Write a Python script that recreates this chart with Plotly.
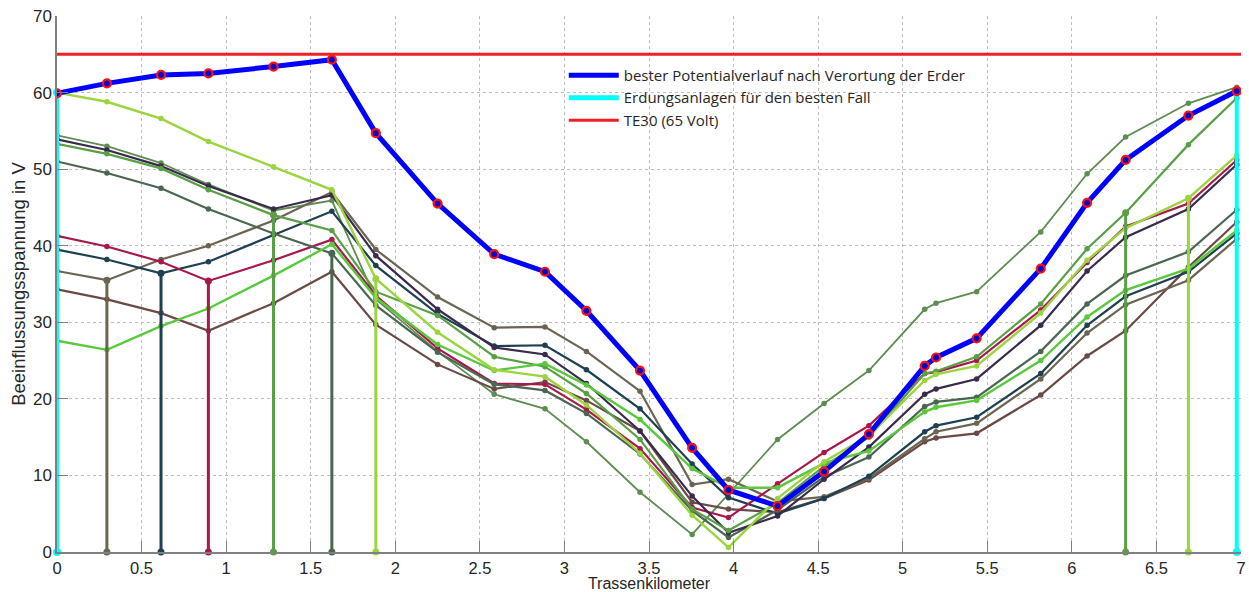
import plotly.graph_objects as go

# Measurement positions along the route (km)
km = [0, 0.295, 0.615, 0.895, 1.28, 1.625, 1.885, 2.25, 2.585, 2.885, 3.13, 3.447,
      3.755, 3.97, 4.26, 4.535, 4.80, 5.13, 5.197, 5.437, 5.816, 6.09, 6.318, 6.689, 6.975]

best = [59.9, 61.2, 62.3, 62.5, 63.4, 64.3, 54.7, 45.5, 38.9, 36.6, 31.5, 23.7,
        13.6, 8.1, 6.0, 10.5, 15.4, 24.3, 25.4, 27.9, 37.0, 45.6, 51.2, 57.0, 60.2]

s_lightgreen = [60.0, 58.8, 56.6, 53.6, 50.3, 47.3, 35.7, 28.7, 23.8, 22.9, 19.2, 12.9,
                4.8, 0.6, 7.0, 11.8, 15.2, 22.4, 23.2, 24.3, 31.2, 38.1, 42.3, 46.2, 51.8]
s_greentop = [54.4, 53.0, 50.8, 48.0, 44.6, 45.9, 33.0, 26.2, 20.6, 18.7, 14.4, 7.8,
              2.3, 7.6, 14.7, 19.4, 23.7, 31.7, 32.5, 34.0, 41.8, 49.4, 54.2, 58.6, 60.7]
s_greenmid = [53.3, 52.0, 50.1, 47.3, 44.0, 42.0, 34.0, 30.9, 25.5, 24.2, 20.7, 14.7,
              5.6, 2.8, 6.4, 11.2, 15.0, 23.3, 23.6, 25.5, 32.4, 39.6, 44.3, 53.2, 59.3]
s_purple = [53.9, 52.5, 50.4, 47.8, 44.8, 46.6, 38.7, 31.7, 26.7, 25.8, 22.0, 15.8,
            7.3, 2.5, 4.7, 9.5, 13.7, 20.6, 21.3, 22.6, 29.6, 36.7, 41.1, 44.8, 50.6]
s_darkgreen = [51.0, 49.5, 47.5, 44.8, 41.6, 39.0, 32.2, 26.1, 21.9, 21.1, 18.1, 12.8,
               5.4, 1.9, 5.5, 9.8, 12.4, 19.0, 19.6, 20.2, 26.2, 32.4, 36.1, 39.2, 44.7]
s_crimson = [41.3, 39.9, 37.9, 35.4, 38.1, 40.8, 33.5, 26.6, 22.0, 21.9, 18.6, 13.5,
             5.8, 4.5, 8.9, 13.0, 16.5, 23.3, 23.5, 25.0, 31.6, 37.8, 42.5, 45.5, 51.2]
s_teal = [39.5, 38.2, 36.4, 37.9, 41.4, 44.5, 37.4, 31.1, 26.9, 27.0, 23.8, 18.7,
          11.5, 7.1, 5.0, 7.0, 9.9, 15.7, 16.5, 17.6, 23.3, 29.6, 33.4, 36.6, 41.6]
s_browngray = [36.7, 35.5, 38.2, 40.0, 43.3, 47.0, 39.5, 33.3, 29.3, 29.4, 26.2, 21.0,
               8.8, 9.5, 6.6, 7.2, 9.6, 14.8, 15.7, 16.8, 22.6, 28.6, 32.3, 35.5, 40.9]
s_brown = [34.3, 33.0, 31.2, 28.9, 32.5, 36.6, 29.7, 24.5, 21.3, 22.2, 19.8, 15.8,
           6.5, 5.6, 5.2, 7.0, 9.4, 14.4, 14.9, 15.5, 20.5, 25.6, 28.9, 37.2, 43.1]
s_brightgreen = [27.6, 26.4, 29.5, 31.8, 36.1, 40.2, 33.2, 27.1, 23.7, 24.6, 21.8, 17.3,
                 10.9, 8.4, 8.4, 11.6, 13.2, 18.3, 18.9, 19.8, 25.0, 30.7, 34.2, 37.0, 42.0]

# Earthing locations of individual scenarios (vertical markers)
earth_km = [0.295, 0.615, 0.895, 1.28, 1.625, 1.885, 6.318, 6.689]
earth_top = [35.5, 36.4, 35.4, 44.0, 39.0, 35.7, 44.3, 46.2]
earth_col = ["#6B6452", "#1E4050", "#A8184C", "#5A9E46", "#4A6650", "#9BD43F", "#5A9E46", "#9BD43F"]

# Earthing for best case
best_earth_km = [0, 6.975]
best_earth_top = [60.0, 60.2]

limit_value = 65
x_ticks = [0, 0.5, 1, 1.5, 2, 2.5, 3, 3.5, 4, 4.5, 5, 5.5, 6, 6.5, 7]
y_ticks = [0, 10, 20, 30, 40, 50, 60, 70]

scenarios = [
    (s_greentop, "#5E8C52", 1.8),
    (s_brown, "#6A4A46", 2.2),
    (s_browngray, "#6B6452", 2.2),
    (s_teal, "#1E4050", 2.2),
    (s_crimson, "#A8184C", 2.2),
    (s_darkgreen, "#4A6650", 2.2),
    (s_purple, "#3A2A4C", 2.2),
    (s_greenmid, "#5A9E46", 2.2),
    (s_brightgreen, "#5AC83C", 2.4),
    (s_lightgreen, "#9BD43F", 2.4),
]

fig = go.Figure()

for ys, col, w in scenarios:
    fig.add_trace(go.Scatter(x=km, y=ys, mode="lines+markers", showlegend=False,
                             line=dict(color=col, width=w),
                             marker=dict(color=col, size=5.5)))

for ex, et, col in zip(earth_km, earth_top, earth_col):
    fig.add_trace(go.Scatter(x=[ex, ex], y=[0, et], mode="lines+markers", showlegend=False,
                             cliponaxis=False,
                             line=dict(color=col, width=3),
                             marker=dict(color=col, size=7)))

# cyan earthing of the best case
cx, cy = [], []
for ex, et in zip(best_earth_km, best_earth_top):
    cx += [ex, ex, None]
    cy += [0, et, None]
fig.add_trace(go.Scatter(x=cx, y=cy, mode="lines", showlegend=False, cliponaxis=False,
                         line=dict(color="#00FFFF", width=4)))
fig.add_trace(go.Scatter(x=cx, y=cy, mode="markers", showlegend=False, cliponaxis=False,
                         marker=dict(color="#00FFFF", size=8)))

# best potential
fig.add_trace(go.Scatter(x=km, y=best, mode="lines", name="bester Potentialverlauf nach Verortung der Erder",
                         line=dict(color="#0000FF", width=5)))
fig.add_trace(go.Scatter(x=km, y=best, mode="markers", showlegend=False,
                         marker=dict(color="#0000CC", size=8, line=dict(color="#FF1010", width=2.2))))

# legend entry for cyan
fig.add_trace(go.Scatter(x=[None], y=[None], mode="lines", name="Erdungsanlagen für den besten Fall",
                         line=dict(color="#00FFFF", width=5)))

# TE30 limit
fig.add_trace(go.Scatter(x=[x_ticks[0], x_ticks[-1]], y=[limit_value, limit_value], mode="lines",
                         name="TE30 (65 Volt)", line=dict(color="#EE2024", width=3)))

axis_common = dict(showline=True, linecolor="#808080", linewidth=1.5, ticks="inside",
                   ticklen=11, tickcolor="#808080", tickwidth=1.2,
                   showgrid=True, gridcolor="#BDBDBD", griddash="dot", gridwidth=1,
                   zeroline=False, mirror=False, automargin=False)

fig.update_layout(
    width=1249, height=592,
    margin=dict(l=57, r=8, t=16, b=40, autoexpand=False),
    plot_bgcolor="white", paper_bgcolor="white",
    xaxis=dict(range=[0, 7], tickvals=x_ticks, ticktext=[f"{v:g}" for v in x_ticks],
               tickfont=dict(family="Liberation Sans, Arial", size=16.5, color="#262626"),
               title=dict(text="Trassenkilometer", standoff=1,
                          font=dict(family="Liberation Sans, Arial", size=16, color="#262626")),
               **axis_common),
    yaxis=dict(range=[0, 70], tickvals=y_ticks,
               tickfont=dict(family="Liberation Sans, Arial", size=17, color="#262626"),
               title=dict(text="Beeinflussungsspannung in V", standoff=2,
                          font=dict(family="Liberation Sans, Arial", size=18.5, color="#262626")),
               **axis_common),
    legend=dict(x=0.428, y=0.92, xanchor="left", yanchor="top",
                bgcolor="rgba(0,0,0,0)", borderwidth=0, itemwidth=50,
                font=dict(family="Open Sans", size=15, color="#262626"),
                tracegroupgap=0),
)

fig.write_html("out.html")
